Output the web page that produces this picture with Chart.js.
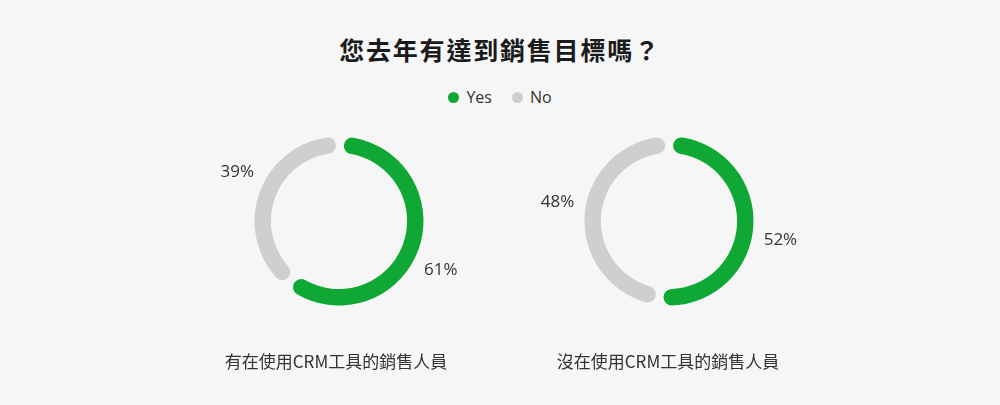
<!DOCTYPE html>
<html>
<head>
<meta charset="utf-8">
<script src="https://cdn.jsdelivr.net/npm/chart.js@4/dist/chart.umd.min.js"></script>
<style>
  html, body { margin: 0; padding: 0; background: #f6f6f6; }
  body { width: 1000px; height: 405px; position: relative; overflow: hidden;
         font-family: "Open Sans", "Noto Sans CJK TC", sans-serif; color: #333; }
  .title { position: absolute; left: 0; width: 1000px; top: 31px; text-align: center;
           font: bold 25px "Noto Sans CJK TC", sans-serif; color: #1b1b1b; letter-spacing: 1.8px; }
  .legend { position: absolute; left: 0; width: 1000px; top: 86px; display: flex;
            justify-content: center; align-items: center; font-size: 16px; color: #333; }
  .legend__item { display: flex; align-items: center; margin: 0 10px; }
  .legend__dot { width: 11px; height: 11px; border-radius: 50%; margin-right: 7px; }
  .chart-wrap { position: absolute; width: 300px; height: 260px; top: 91px; }
  .chart-label { position: absolute; top: 348px; width: 300px; text-align: center;
                 font: 17px "Noto Sans CJK TC", sans-serif; color: #333; }
</style>
</head>
<body>
<div class="title" id="title"></div>
<div class="legend" id="legend"></div>

<div class="chart-wrap" style="left:189px;"><canvas id="chart-with" width="300" height="260"></canvas></div>
<div class="chart-wrap" style="left:519px;"><canvas id="chart-without" width="300" height="260"></canvas></div>
<div class="chart-label" id="label-with" style="left:186px;"></div>
<div class="chart-label" id="label-without" style="left:518px;"></div>

<script>
const title = '您去年有達到銷售目標嗎？';
const categories = ['Yes', 'No'];
const groups = ['有在使用CRM工具的銷售人員', '沒在使用CRM工具的銷售人員'];
const withCrm = [61, 39];
const withoutCrm = [52, 48];
const colors = ['#10a834', '#cfcfd1'];

document.getElementById('title').textContent = title;
document.getElementById('label-with').textContent = groups[0];
document.getElementById('label-without').textContent = groups[1];

// Legend built from the categories
const legend = document.getElementById('legend');
categories.forEach((c, i) => {
  legend.insertAdjacentHTML('beforeend',
    `<div class="legend__item"><span class="legend__dot" style="background:${colors[i]}"></span>${c}</div>`);
});

// Percent labels outside each arc, nudged a little clockwise
const outerLabels = {
  id: 'outerLabels',
  afterDatasetsDraw(chart) {
    const { ctx } = chart;
    const values = chart.data.datasets[0].data;
    ctx.save();
    ctx.font = '17px "Open Sans", "Noto Sans", sans-serif';
    ctx.fillStyle = '#333';
    ctx.textAlign = 'center';
    ctx.textBaseline = 'middle';
    chart.getDatasetMeta(0).data.forEach((arc, i) => {
      const { x, y, startAngle, endAngle, outerRadius } =
        arc.getProps(['x', 'y', 'startAngle', 'endAngle', 'outerRadius'], true);
      const mid = (startAngle + endAngle) / 2 + (6 * Math.PI) / 180;
      const r = outerRadius + 31;
      ctx.fillText(values[i] + '%', x + Math.cos(mid) * r, y + Math.sin(mid) * r);
    });
    ctx.restore();
  },
};

function makeDoughnut(id, values) {
  return new Chart(document.getElementById(id), {
    type: 'doughnut',
    data: {
      labels: categories,
      datasets: [{
        data: values,
        backgroundColor: colors,
        borderWidth: 0,
        borderRadius: 9,
        spacing: 5,
      }],
    },
    options: {
      responsive: false,
      animation: false,
      events: [],
      cutout: '80%',
      layout: { padding: { left: 65.5, right: 65.5, top: 45.5, bottom: 45.5 } },
      plugins: { legend: { display: false }, tooltip: { enabled: false } },
    },
    plugins: [outerLabels],
  });
}

makeDoughnut('chart-with', withCrm);
makeDoughnut('chart-without', withoutCrm);
</script>
</body>
</html>
